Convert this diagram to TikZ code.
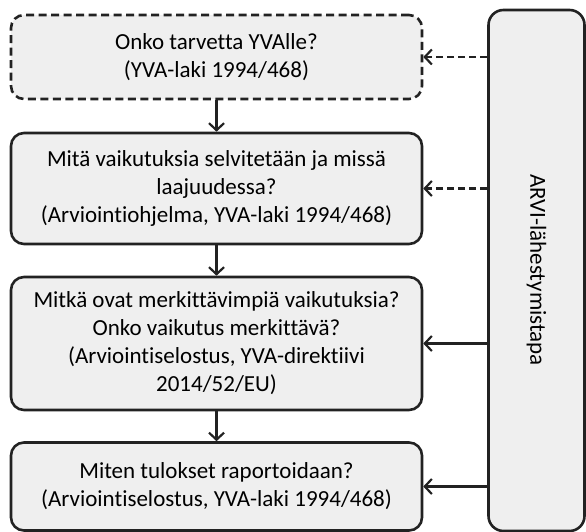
\documentclass[tikz,border=0pt]{standalone}
\usepackage{fontspec}
\setmainfont[Ligatures=NoCommon]{Carlito}
\usetikzlibrary{arrows.meta}
\definecolor{boxfill}{HTML}{EFEFEF}
\definecolor{linec}{HTML}{222222}
\tikzset{
  stepbox/.style={draw=linec, line width=2.6pt, fill=boxfill, rounded corners=13pt,
    align=center, font=\fontsize{23}{28}\selectfont, inner sep=0pt},
  conn/.style={draw=linec, line width=2.4pt, -{Straight Barb[length=7pt,width=15pt,line width=2.2pt]}},
  dconn/.style={conn, dash pattern=on 7pt off 4pt},
}
\begin{document}
\begin{tikzpicture}[x=1pt,y=-1pt]
\useasboundingbox (0,0) rectangle (586,532);
\node[stepbox, dash pattern=on 8pt off 4.5pt, minimum width=411pt, minimum height=84pt] (b1) at (216.5,57) {Onko tarvetta YVAlle?\\(YVA-laki 1994/468)};
\node[stepbox, minimum width=411pt, minimum height=111pt] (b2) at (216.5,188.5) {Mitä vaikutuksia selvitetään ja missä\\laajuudessa?\\(Arviointiohjelma, YVA-laki 1994/468)};
\node[stepbox, minimum width=411pt, minimum height=133pt] (b3) at (216.5,343.5) {Mitkä ovat merkittävimpiä vaikutuksia?\\Onko vaikutus merkittävä?\\(Arviointiselostus, YVA-direktiivi\\2014/52/EU)};
\node[stepbox, minimum width=411pt, minimum height=88pt] (b4) at (216.5,486.5) {Miten tulokset raportoidaan?\\(Arviointiselostus, YVA-laki 1994/468)};
\node[stepbox, rounded corners=15pt, minimum width=96pt, minimum height=521pt] (arvi) at (536.5,270.5) {};
\node[font=\fontsize{23}{28}\selectfont, rotate=-90] (arvilabel) at (536.5,270) {ARVI-lähestymistapa};
\draw[conn] (b1) -- (b2);
\draw[conn] (b2) -- (b3);
\draw[conn] (b3) -- (b4);
\draw[dconn] (arvi.west |- b1.east) -- (b1.east);
\draw[dconn] (arvi.west |- b2.east) -- (b2.east);
\draw[conn] (arvi.west |- b3.east) -- (b3.east);
\draw[conn] (arvi.west |- b4.east) -- (b4.east);
\end{tikzpicture}
\end{document}
